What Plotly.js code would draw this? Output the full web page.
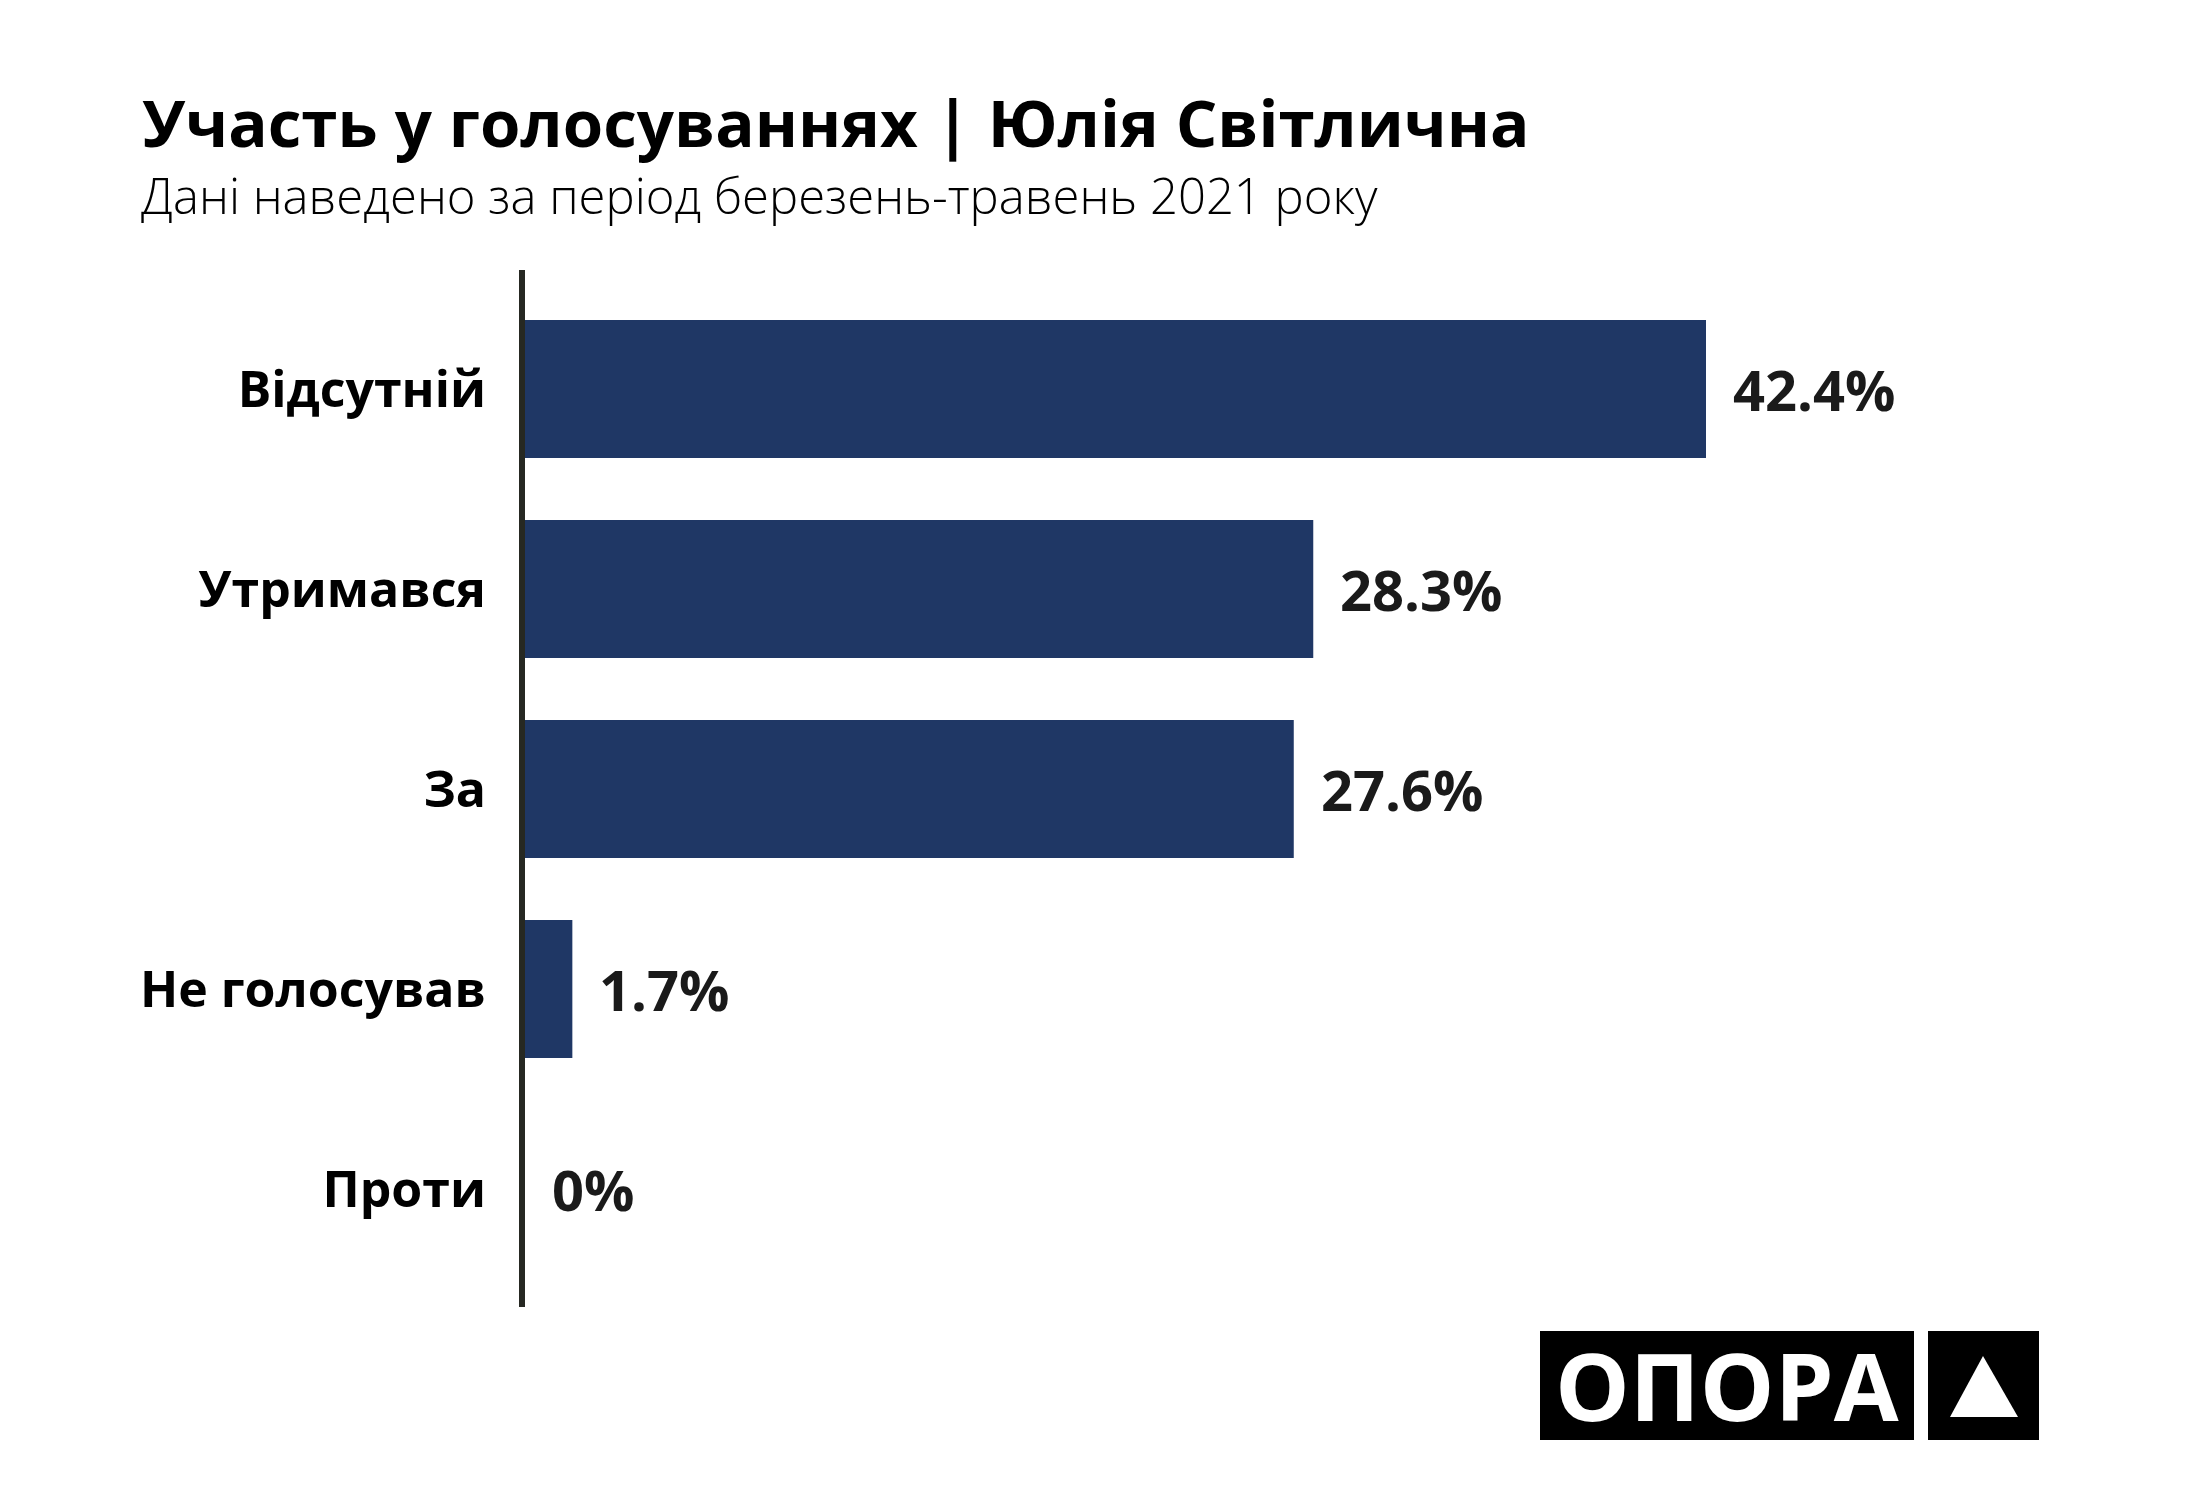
<!DOCTYPE html>
<html>
<head>
<meta charset="utf-8">
<script src="https://cdn.plot.ly/plotly-3.0.1.min.js"></script>
<style>html,body{margin:0;padding:0;background:#fff;}#chart{width:2200px;height:1500px;}</style>
</head>
<body>
<div id="chart"></div>
<script>
// Data
var categories = ["Відсутній", "Утримався", "За", "Не голосував", "Проти"];
var shares = [42.4, 28.3, 27.6, 1.7, 0];
var valueLabels = ["42.4%", "28.3%", "27.6%", "1.7%", "0%"];
var titleText = "Участь у голосуваннях | Юлія Світлична";
var subtitleText = "Дані наведено за період березень-травень 2021 року";
var logoText = "ОПОРА";

// Layout geometry (pixels)
var W = 2200, H = 1500;
var mL = 525, mR = 175, mT = 270, mB = 193;
var plotW = W - mL - mR, plotH = H - mT - mB;
function px(x) { return (x - mL) / plotW; }
function py(y) { return (H - mB - y) / plotH; }

var fontBold = "'Open Sans', 'Noto Sans', sans-serif";

var trace = {
  type: "bar",
  orientation: "h",
  x: shares,
  y: categories,
  marker: { color: "#1f3765" },
  hoverinfo: "skip",
  showlegend: false
};

var annotations = [];
for (var i = 0; i < categories.length; i++) {
  annotations.push({
    x: shares[i], y: categories[i], xref: "x", yref: "y",
    text: valueLabels[i], showarrow: false,
    xanchor: "left", yanchor: "middle", xshift: 25,
    font: { family: fontBold, size: 56, weight: 700, color: "#1a1a1a" }
  });
}
// Title & subtitle
annotations.push({
  x: px(140), y: py(121), xref: "paper", yref: "paper",
  text: "<b>" + titleText + "</b>", showarrow: false,
  xanchor: "left", yanchor: "middle",
  font: { family: fontBold, size: 65.4, color: "#000000" }
});
annotations.push({
  x: px(139), y: py(195), xref: "paper", yref: "paper",
  text: subtitleText, showarrow: false,
  xanchor: "left", yanchor: "middle",
  font: { family: "'Open Sans', 'Noto Sans', sans-serif", size: 49, weight: 300, color: "#000000" }
});
// Logo text
annotations.push({
  x: px(1727), y: py(1385), xref: "paper", yref: "paper",
  text: "<b>" + logoText + "</b>", showarrow: false,
  xanchor: "center", yanchor: "middle",
  font: { family: fontBold, size: 94, color: "#ffffff" }
});

var shapes = [
  { type: "rect", xref: "paper", yref: "paper", x0: px(1540), x1: px(1914), y0: py(1440), y1: py(1331),
    fillcolor: "#000000", line: { width: 0 }, layer: "above" },
  { type: "rect", xref: "paper", yref: "paper", x0: px(1928), x1: px(2039), y0: py(1440), y1: py(1331),
    fillcolor: "#000000", line: { width: 0 }, layer: "above" },
  { type: "path", xref: "paper", yref: "paper",
    path: "M " + px(1983) + " " + py(1356) + " L " + px(2018) + " " + py(1417) + " L " + px(1950) + " " + py(1417) + " Z",
    fillcolor: "#ffffff", line: { width: 0 }, layer: "above" }
];

var layout = {
  width: W, height: H,
  paper_bgcolor: "#ffffff", plot_bgcolor: "#ffffff",
  margin: { l: mL, r: mR, t: mT, b: mB, pad: 0 },
  bargap: 0.31,
  xaxis: {
    range: [0, plotW / ((1706 - mL) / 42.4)],
    visible: false, showgrid: false, zeroline: false, fixedrange: true
  },
  yaxis: {
    type: "category",
    range: [4.59, -0.595],
    showline: true, linecolor: "#262822", linewidth: 6,
    showgrid: false, zeroline: false, ticks: "",
    ticklabelstandoff: 23,
    tickfont: { family: fontBold, size: 50, weight: 700, color: "#000000" }
  },
  annotations: annotations,
  shapes: shapes,
  showlegend: false
};

Plotly.newPlot("chart", [trace], layout, { staticPlot: true, displayModeBar: false });
</script>
</body>
</html>
